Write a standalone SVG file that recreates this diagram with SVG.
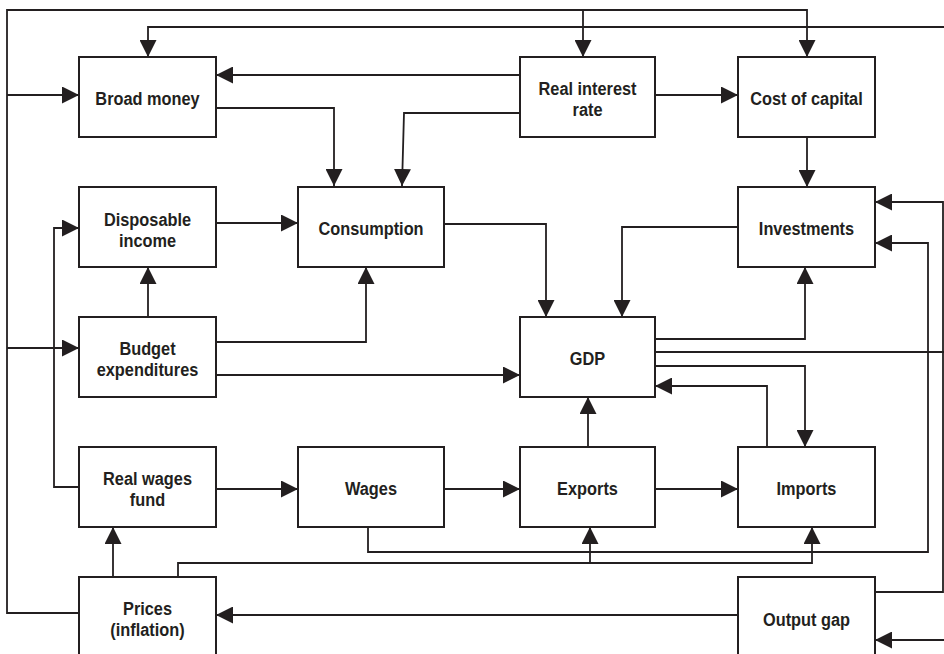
<svg xmlns="http://www.w3.org/2000/svg" width="944" height="654" viewBox="0 0 944 654">
<style>
.box{fill:#fff;stroke:#231f20;stroke-width:2}
.c{fill:none;stroke:#231f20;stroke-width:1.8}
.a{marker-end:url(#ah)}
text{font-family:"Liberation Sans",Arial,sans-serif;font-weight:bold;font-size:19px;fill:#231f20;text-anchor:middle}
</style>
<defs>
<marker id="ah" markerUnits="userSpaceOnUse" markerWidth="17" markerHeight="17" refX="17" refY="8.5" orient="auto" viewBox="0 0 17 17">
<path d="M0,0 L17,8.5 L0,17 z" fill="#231f20"/>
</marker>
</defs>
<rect width="944" height="654" fill="#fff"/>
<g id="connectors">
<path class="c a" d="M79,613 H7 V10 H807 V57"/>
<path class="c a" d="M583,10 V57"/>
<path class="c a" d="M7,95 H79"/>
<path class="c a" d="M7,348 H79"/>
<path class="c a" d="M944,27 H148 V57"/>
<path class="c a" d="M520,75 H216"/>
<path class="c a" d="M655,95 H738"/>
<path class="c a" d="M216,108 H334 V186"/>
<path class="c a" d="M520,113 H404 L402,186"/>
<path class="c a" d="M807,137 V187"/>
<path class="c a" d="M216,223 H298"/>
<path class="c a" d="M444,224 H546 V317"/>
<path class="c a" d="M738,227 H622 V317"/>
<path class="c a" d="M148,317 V267"/>
<path class="c a" d="M216,342 H366 V267"/>
<path class="c a" d="M216,375 H520"/>
<path class="c a" d="M79,487 H54 V228 H79"/>
<path class="c a" d="M655,339 H805 V267"/>
<path class="c" d="M655,352 H944"/>
<path class="c a" d="M655,366 H805 V447"/>
<path class="c a" d="M767,447 V386 H655"/>
<path class="c a" d="M588,447 V397"/>
<path class="c a" d="M216,489 H298"/>
<path class="c a" d="M444,489 H520"/>
<path class="c a" d="M655,489 H738"/>
<path class="c a" d="M113,577 V527"/>
<path class="c a" d="M368,527 V552 H928 V243 H875"/>
<path class="c a" d="M178,577 V563 H812 V527"/>
<path class="c a" d="M590,563 V527"/>
<path class="c a" d="M738,615 H216"/>
<path class="c a" d="M875,592 H943 V202 H875"/>
<path class="c a" d="M944,640 H875"/>
</g>
<g id="broad-money"><rect class="box" x="79" y="57" width="137" height="80"/><g transform="translate(147.5,0) scale(0.86,1)"><text x="0" y="105">Broad money</text></g></g>
<g id="real-interest-rate"><rect class="box" x="520" y="57" width="135" height="80"/><g transform="translate(587.5,0) scale(0.86,1)"><text x="0" y="95">Real interest</text><text x="0" y="116">rate</text></g></g>
<g id="cost-of-capital"><rect class="box" x="738" y="57" width="137" height="80"/><g transform="translate(806.5,0) scale(0.86,1)"><text x="0" y="105">Cost of capital</text></g></g>
<g id="disposable-income"><rect class="box" x="79" y="187" width="137" height="80"/><g transform="translate(147.5,0) scale(0.86,1)"><text x="0" y="226">Disposable</text><text x="0" y="247">income</text></g></g>
<g id="consumption"><rect class="box" x="298" y="187" width="146" height="80"/><g transform="translate(371,0) scale(0.86,1)"><text x="0" y="235">Consumption</text></g></g>
<g id="investments"><rect class="box" x="738" y="187" width="137" height="80"/><g transform="translate(806.5,0) scale(0.86,1)"><text x="0" y="235">Investments</text></g></g>
<g id="budget-expenditures"><rect class="box" x="79" y="317" width="137" height="80"/><g transform="translate(147.5,0) scale(0.86,1)"><text x="0" y="355">Budget</text><text x="0" y="376">expenditures</text></g></g>
<g id="gdp"><rect class="box" x="520" y="317" width="135" height="80"/><g transform="translate(587.5,0) scale(0.86,1)"><text x="0" y="365">GDP</text></g></g>
<g id="real-wages-fund"><rect class="box" x="79" y="447" width="137" height="80"/><g transform="translate(147.5,0) scale(0.86,1)"><text x="0" y="485">Real wages</text><text x="0" y="506">fund</text></g></g>
<g id="wages"><rect class="box" x="298" y="447" width="146" height="80"/><g transform="translate(371,0) scale(0.86,1)"><text x="0" y="495">Wages</text></g></g>
<g id="exports"><rect class="box" x="520" y="447" width="135" height="80"/><g transform="translate(587.5,0) scale(0.86,1)"><text x="0" y="495">Exports</text></g></g>
<g id="imports"><rect class="box" x="738" y="447" width="137" height="80"/><g transform="translate(806.5,0) scale(0.86,1)"><text x="0" y="495">Imports</text></g></g>
<g id="prices"><rect class="box" x="79" y="577" width="137" height="90"/><g transform="translate(147.5,0) scale(0.86,1)"><text x="0" y="615">Prices</text><text x="0" y="636">(inflation)</text></g></g>
<g id="output-gap"><rect class="box" x="738" y="577" width="137" height="90"/><g transform="translate(806.5,0) scale(0.86,1)"><text x="0" y="626">Output gap</text></g></g>
</svg>
